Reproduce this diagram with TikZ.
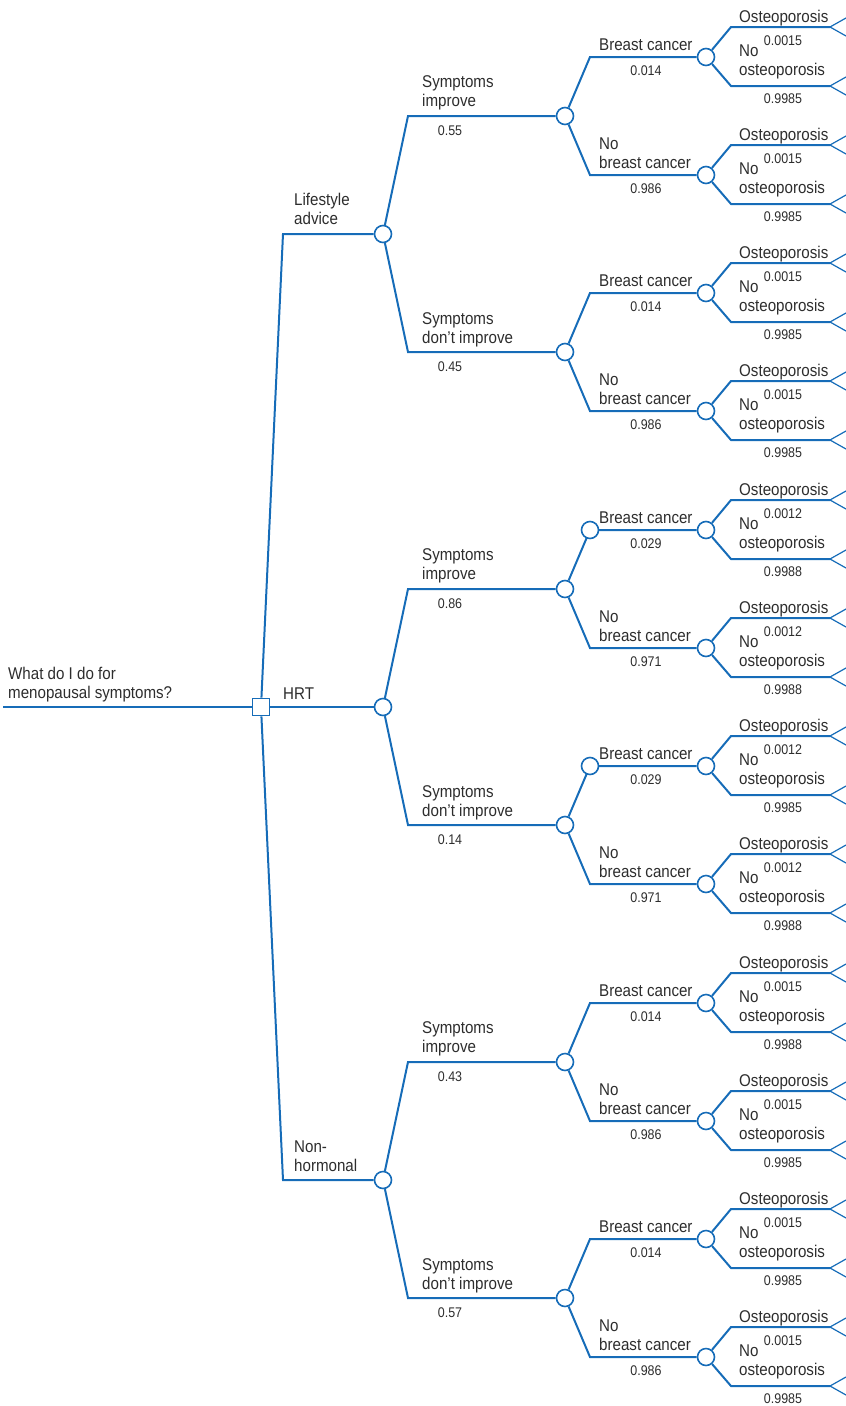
\documentclass[tikz,border=0pt]{standalone}
\usepackage{fontspec}
\setmainfont{Liberation Sans}[FakeStretch=0.89]
\usetikzlibrary{positioning}
\definecolor{treeblue}{RGB}{22,108,184}
\definecolor{textgray}{RGB}{45,45,45}
\begin{document}
\begin{tikzpicture}[x=1pt, y=-1pt]
        % Tree style definitions
        \tikzset{
            branch/.style={treeblue, line width=2pt},
            twig/.style={treeblue, line width=1.2pt},
            chance/.style={circle, draw=treeblue, line width=1.6pt, fill=white, minimum size=17pt, inner sep=0pt},
            choice/.style={rectangle, draw=treeblue, line width=1.6pt, fill=white, minimum size=17pt, inner sep=0pt},
            lbl/.style={textgray, font=\fontsize{17}{19}\selectfont, align=left, anchor=base west, inner sep=0pt},
            prob/.style={textgray, font=\fontsize{14}{16}\selectfont, inner sep=0pt}
        }
        \useasboundingbox (0,0) rectangle (846,1406);

        % ==========================================
        % DECISION (root square and three options)
        % ==========================================
        \coordinate (start) at (3,707);
        \node[choice] (dec) at (261,707) {};
        \node[lbl] (question) at (8,698) {What do I do for\\menopausal symptoms?};
        \draw[branch] (start) -- (dec);

        \node[chance] (la) at (383,234) {};
        \node[chance] (hrt) at (383,707) {};
        \node[chance] (nh) at (383,1180) {};
        \coordinate (la-c) at (283,234);
        \coordinate (nh-c) at (283,1180);
        \draw[branch] (dec) -- (la-c) -- (la);
        \draw[branch] (dec) -- (hrt);
        \draw[branch] (dec) -- (nh-c) -- (nh);
        \node[lbl] (la-l) at (294,224) {Lifestyle\\advice};
        \node[lbl] (hrt-l) at (283,699) {HRT};
        \node[lbl] (nh-l) at (294,1171) {Non-\\hormonal};

        % ==========================================
        % SYMPTOMS (improve / don't improve)
        % ==========================================
        \foreach \p/\y/\pa/\pb in {la/234/0.55/0.45, hrt/707/0.86/0.14, nh/1180/0.43/0.57}{
            \node[chance] (\p-si) at (565,\y-118) {};
            \node[chance] (\p-sd) at (565,\y+118) {};
            \coordinate (\p-si-c) at (408,\y-118);
            \coordinate (\p-sd-c) at (408,\y+118);
            \draw[branch] (\p) -- (\p-si-c) -- (\p-si);
            \draw[branch] (\p) -- (\p-sd-c) -- (\p-sd);
            \node[lbl] (\p-si-l) at (422,\y-128) {Symptoms\\improve};
            \node[prob] (\p-si-n) at (450,\y-103) {\pa};
            \node[lbl] (\p-sd-l) at (422,\y+109) {Symptoms\\don’t improve};
            \node[prob] (\p-sd-n) at (450,\y+133) {\pb};
        }

        % ==========================================
        % BREAST CANCER (yes / no)
        % ==========================================
        \foreach \p/\y/\pa/\pb in {la-si/116/0.014/0.986, la-sd/352/0.014/0.986,
                                   hrt-si/589/0.029/0.971, hrt-sd/825/0.029/0.971,
                                   nh-si/1062/0.014/0.986, nh-sd/1298/0.014/0.986}{
            \node[chance] (\p-bc) at (706,\y-59) {};
            \node[chance] (\p-nbc) at (706,\y+59) {};
            \coordinate (\p-bc-c) at (590,\y-59);
            \coordinate (\p-nbc-c) at (590,\y+59);
            \draw[branch] (\p) -- (\p-bc-c) -- (\p-bc);
            \draw[branch] (\p) -- (\p-nbc-c) -- (\p-nbc);
            \node[lbl] (\p-bc-l) at (599,\y-66) {Breast cancer};
            \node[prob] (\p-bc-n) at (646,\y-45) {\pa};
            \node[lbl] (\p-nbc-l) at (599,\y+52) {No\\breast cancer};
            \node[prob] (\p-nbc-n) at (646,\y+73) {\pb};
        }

        % extra chance marks on the HRT breast cancer branches
        \node[chance] (hrt-si-bc-m) at (hrt-si-bc-c) {};
        \node[chance] (hrt-sd-bc-m) at (hrt-sd-bc-c) {};

        % ==========================================
        % OSTEOPOROSIS (yes / no) and end forks
        % ==========================================
        \foreach \p/\y/\pa/\pb in {la-si-bc/57/0.0015/0.9985, la-si-nbc/175/0.0015/0.9985,
                                   la-sd-bc/293/0.0015/0.9985, la-sd-nbc/411/0.0015/0.9985,
                                   hrt-si-bc/530/0.0012/0.9988, hrt-si-nbc/648/0.0012/0.9988,
                                   hrt-sd-bc/766/0.0012/0.9985, hrt-sd-nbc/884/0.0012/0.9988,
                                   nh-si-bc/1003/0.0015/0.9988, nh-si-nbc/1121/0.0015/0.9985,
                                   nh-sd-bc/1239/0.0015/0.9985, nh-sd-nbc/1357/0.0015/0.9985}{
            \coordinate (\p-o-c) at (731,\y-30);
            \coordinate (\p-o-e) at (830,\y-30);
            \coordinate (\p-no-c) at (731,\y+29);
            \coordinate (\p-no-e) at (830,\y+29);
            \draw[branch] (\p) -- (\p-o-c) -- (\p-o-e);
            \draw[branch] (\p) -- (\p-no-c) -- (\p-no-e);
            \coordinate (\p-o-u) at (846,\y-39);
            \coordinate (\p-o-d) at (846,\y-21);
            \coordinate (\p-no-u) at (846,\y+20);
            \coordinate (\p-no-d) at (846,\y+38);
            \draw[twig] (\p-o-u) -- (\p-o-e) -- (\p-o-d);
            \draw[twig] (\p-no-u) -- (\p-no-e) -- (\p-no-d);
            \node[lbl] (\p-o-l) at (739,\y-35) {Osteoporosis};
            \node[prob] (\p-o-n) at (783,\y-16) {\pa};
            \node[lbl] (\p-no-l) at (739,\y+18) {No\\osteoporosis};
            \node[prob] (\p-no-n) at (783,\y+42) {\pb};
        }

    \end{tikzpicture}
\end{document}
